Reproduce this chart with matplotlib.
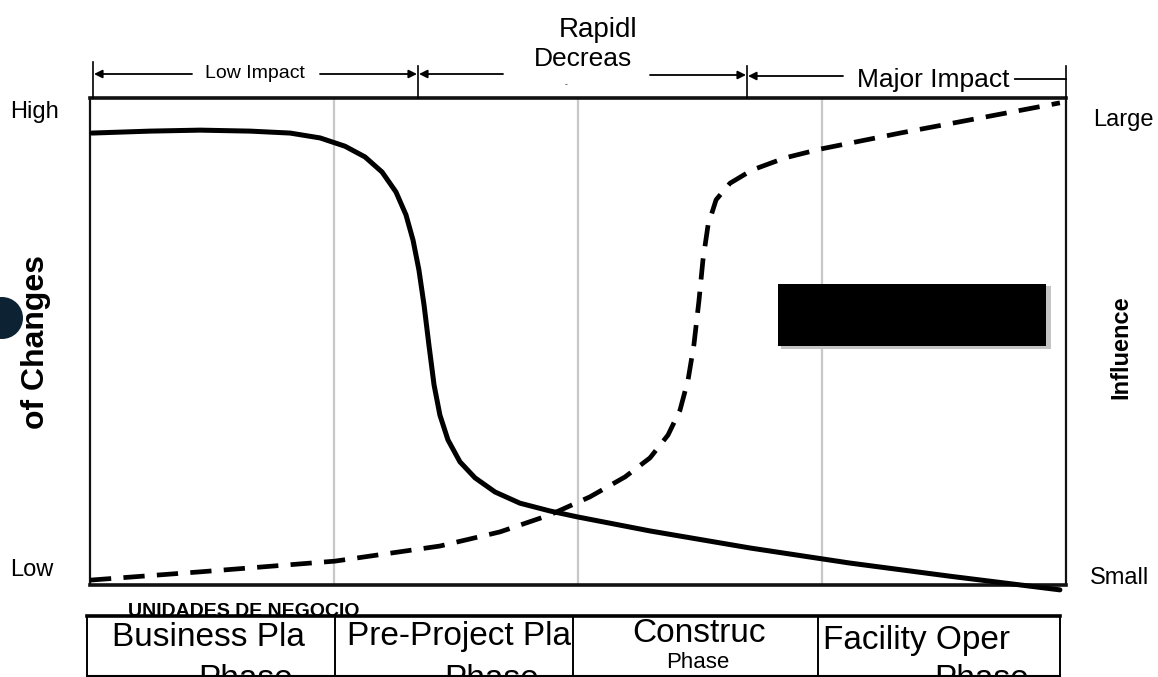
import matplotlib.pyplot as plt
from matplotlib.patches import Rectangle, Circle

# ---------------------------------------------------------------------------
# Curve values (x: project phases 0..4, y: relative level 0..1)
changes_x = [0.008, 0.246, 0.451, 0.656, 0.820, 0.943, 1.045, 1.127, 1.197,
             1.254, 1.295, 1.324, 1.348, 1.369, 1.389, 1.410, 1.434, 1.467,
             1.516, 1.578, 1.660, 1.762, 1.885, 1.996, 2.295, 2.705, 3.115,
             3.525, 3.975]
changes_y = [0.928, 0.932, 0.934, 0.932, 0.928, 0.918, 0.901, 0.879, 0.848,
             0.807, 0.760, 0.708, 0.647, 0.575, 0.493, 0.411, 0.349, 0.298,
             0.253, 0.220, 0.191, 0.168, 0.152, 0.140, 0.111, 0.076, 0.045,
             0.018, -0.010]

influence_x = [0.0, 0.451, 1.004, 1.434, 1.680, 1.885, 2.049, 2.193, 2.295,
               2.369, 2.418, 2.451, 2.475, 2.496, 2.512, 2.533, 2.566, 2.623,
               2.713, 2.848, 2.992, 3.320, 3.648, 3.975]
influence_y = [0.010, 0.027, 0.049, 0.080, 0.109, 0.144, 0.181, 0.222, 0.261,
               0.308, 0.359, 0.421, 0.493, 0.585, 0.667, 0.739, 0.791, 0.825,
               0.852, 0.877, 0.895, 0.928, 0.959, 0.990]

phase_bounds = [1, 2, 3]
phase_labels = ['Business Pla', 'Pre-Project Pla', 'Construc', 'Facility Oper']
phase_sub = ['Phase', 'Phase', 'Phase', 'Phase']

W, H = 1158, 677
plt.rcParams['font.family'] = ['Liberation Sans', 'DejaVu Sans']
fig = plt.figure(figsize=(W / 100, H / 100), dpi=100)


def fbox(x0, y0, x1, y1):
    # pixel box (top-left origin) -> figure fraction rect
    return [x0 / W, 1 - y1 / H, (x1 - x0) / W, (y1 - y0) / H]


# overlay in pixel coordinates for the annotations, drawn on top
ov = fig.add_axes([0, 0, 1, 1])
ov.set_xlim(0, W)
ov.set_ylim(H, 0)
ov.axis('off')
ov.set_zorder(10)

# ---------------------------------------------------------------------------
# main chart
ax = fig.add_axes(fbox(90, 98, 1066, 585))
ax.set_xlim(0, 4)
ax.set_ylim(0, 1)
ax.set_xticks([])
ax.set_yticks([])
for s in ax.spines.values():
    s.set_linewidth(1.6)
    s.set_color('#111111')
ax.spines['top'].set_linewidth(2.6)
ax.spines['bottom'].set_linewidth(2.6)

for b in phase_bounds:
    ax.axvline(b, color='#c8c8c8', lw=1.6, zorder=1)

ax.plot(changes_x, changes_y, color='black', lw=3.6, zorder=3,
        solid_capstyle='round', solid_joinstyle='round', clip_on=False)
ax.plot(influence_x, influence_y, color='black', lw=3.4, zorder=3,
        linestyle=(0, (4.5, 2.6)), clip_on=False)

ax.add_patch(Rectangle((2.83, 0.485), 1.11, 0.128, facecolor='#c4c4c4',
                       edgecolor='none', zorder=4))
ax.add_patch(Rectangle((2.82, 0.49), 1.10, 0.128, facecolor='black',
                       edgecolor='none', zorder=5))

# left / right labels
ov.text(10, 112, 'High', fontsize=17, va='center', ha='left')
ov.text(10, 570, 'Low', fontsize=17, va='center', ha='left')
ov.text(1093, 120, 'Large', fontsize=17, va='center', ha='left')
ov.text(1090, 578, 'Small', fontsize=17, va='center', ha='left')
ov.text(36, 342, 'of Changes', fontsize=23, fontweight='bold', rotation=90,
        ha='center', va='center')
ov.text(1121, 347, 'Influence', fontsize=17, fontweight='bold', rotation=90,
        ha='center', va='center')
ov.add_patch(Circle((2, 318), 21, facecolor='#0d2233', edgecolor='none'))

# ---------------------------------------------------------------------------
# top impact brackets
for x, y0 in [(93, 62), (418, 66), (747, 66), (1066, 66)]:
    ov.plot([x, x], [y0, 98], color='black', lw=1.2)

arrow = dict(arrowstyle='-|>', color='black', lw=1.3, mutation_scale=12,
             shrinkA=0, shrinkB=0)
ov.annotate('', xy=(94, 74), xytext=(192, 74), arrowprops=arrow)
ov.annotate('', xy=(417, 74), xytext=(320, 74), arrowprops=arrow)
ov.annotate('', xy=(419, 74), xytext=(503, 74), arrowprops=arrow)
ov.annotate('', xy=(746, 75), xytext=(650, 75), arrowprops=arrow)
ov.annotate('', xy=(748, 76), xytext=(843, 76), arrowprops=arrow)
ov.plot([1015, 1066], [79, 79], color='black', lw=1.3)

ov.text(255, 73, 'Low Impact', fontsize=14, ha='center', va='center')
ov.text(598, 30, 'Rapidl', fontsize=20, ha='center', va='center')
ov.text(583, 59, 'Decreas', fontsize=19, ha='center', va='center')
ov.text(566, 85, '-', fontsize=6, ha='center', va='center')
ov.text(933, 80, 'Major Impact', fontsize=19, ha='center', va='center')

# ---------------------------------------------------------------------------
# bottom phase table
cells = [87, 335, 573, 818, 1060]
name_x = [0.1, 0.05, 0.24, 0.02]
name_y = [637, 637, 634, 640]
sub_x = [0.45, 0.46, 0.38, 0.48]
for i, lab in enumerate(phase_labels):
    cax = fig.add_axes(fbox(cells[i], 616, cells[i + 1], 677))
    cax.set_xlim(0, 1)
    cax.set_ylim(677, 616)
    cax.axis('off')
    cax.text(name_x[i], name_y[i], lab, fontsize=24, ha='left',
             va='center', clip_on=True)
    if i == 2:
        cax.text(sub_x[i], 662, phase_sub[i], fontsize=16, ha='left',
                 va='center', clip_on=True)
    else:
        cax.text(sub_x[i], 680, phase_sub[i], fontsize=24, ha='left',
                 va='center', clip_on=True)

ov.plot([87, 1060], [616, 616], color='black', lw=2.6)
ov.plot([87, 1060], [676, 676], color='black', lw=1.5)
for x in cells:
    ov.plot([x, x], [616, 677], color='black', lw=1.4)

ov.text(128, 612, 'UNIDADES DE NEGOCIO', fontsize=14, fontweight='bold',
        ha='left', va='center')

fig.savefig('out.png', dpi=100)
